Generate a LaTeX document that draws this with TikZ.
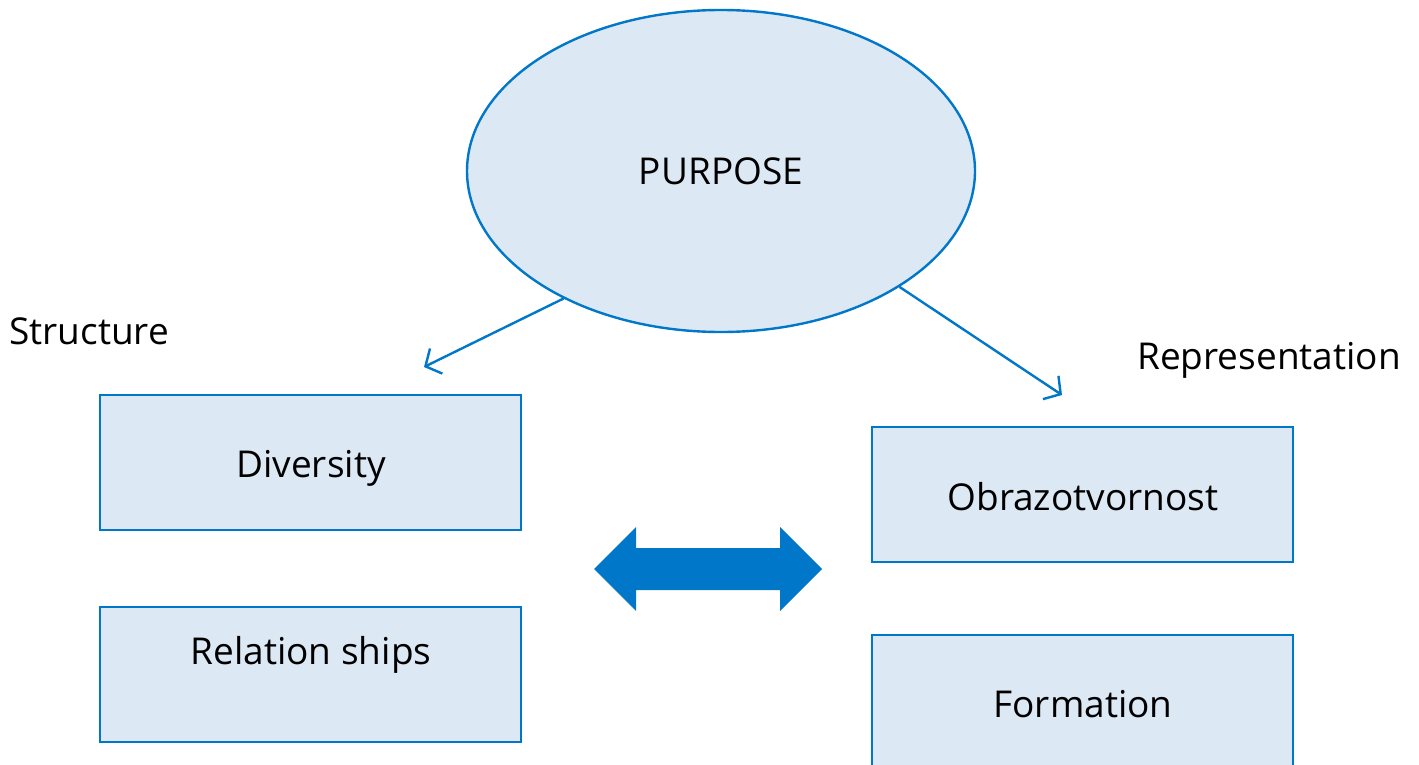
\documentclass[tikz,border=0pt]{standalone}
\usepackage{fontspec}
\setmainfont{Open Sans}
\usetikzlibrary{shapes.geometric,arrows.meta}
\definecolor{lineblue}{HTML}{0077C8}
\definecolor{paleblue}{HTML}{DDE8F5}
\tikzset{
  every node/.style={font=\fontsize{37}{44}\selectfont, text=black},
  box/.style={draw=lineblue, fill=paleblue, line width=2.4pt, minimum width=421pt, minimum height=135pt, inner sep=0pt},
  conn/.style={draw=lineblue, line width=2.4pt, -{Straight Barb[length=12pt,width=28pt,line width=2.4pt]}}
}
\begin{document}
\begin{tikzpicture}[x=1pt,y=-1pt]
\useasboundingbox (0,0) rectangle (1419,765);

% central ellipse
\node[ellipse, draw=lineblue, fill=paleblue, line width=2.4pt, minimum width=508pt, minimum height=322pt, inner sep=0pt] (purpose) at (721,171) {PURPOSE};

% left column
\node[box] (diversity) at (310.5,462.5) {};
\node at (311,468) {Diversity};
\node[box] (relations) at (310.5,674.5) {};
\node at (311,655) {Relation ships};

% right column
\node[box] (obraz) at (1082.5,494.5) {};
\node at (1083,497) {Obrazotvornost};
\node[box, minimum height=160pt] (formation) at (1082.5,715) {};
\node at (1083,704) {Formation};

% group labels
\node[anchor=west, inner sep=0pt] (structure) at (9,331) {Structure};
\node[anchor=west, inner sep=0pt] (representation) at (1137,360) {Representation};

% arrows from the ellipse
\coordinate (lend) at (424,367);
\coordinate (rend) at (1062,395);
\draw[conn] (purpose.{-141.4}) -- (lend);
\draw[conn] (purpose.{-33.2}) -- (rend);

% thick double arrow between the columns
\fill[lineblue] (594,569) -- (636,527) -- (636,548) -- (780,548) -- (780,527)
  -- (822,569) -- (780,611) -- (780,590) -- (636,590) -- (636,611) -- cycle;
\end{tikzpicture}
\end{document}
